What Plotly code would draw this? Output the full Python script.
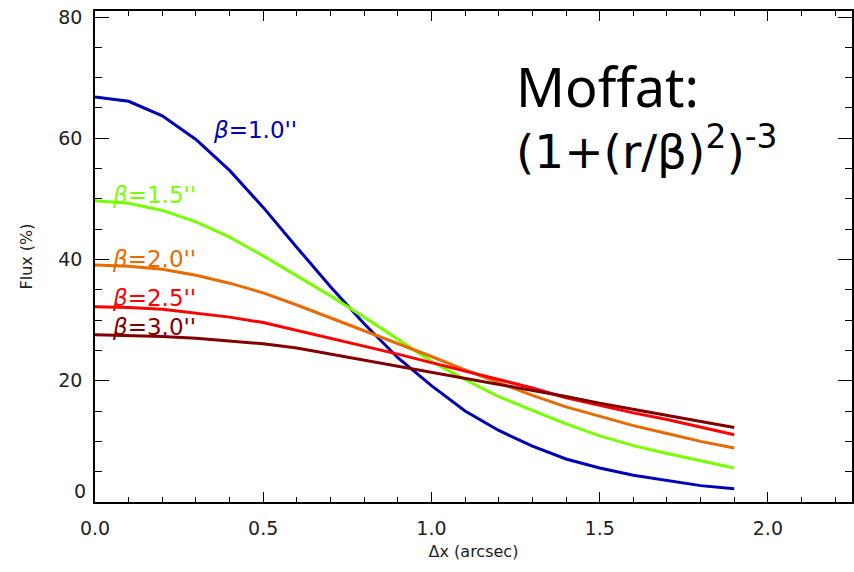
import plotly.graph_objects as go

dx = [0.0, 0.1, 0.2, 0.3, 0.4, 0.5, 0.6, 0.7, 0.8, 0.9, 1.0,
      1.1, 1.2, 1.3, 1.4, 1.5, 1.6, 1.7, 1.8, 1.9]

flux_b10 = [66.8, 66.1, 63.7, 59.8, 54.7, 48.6, 42.0, 35.5, 29.4, 23.8, 19.2,
            15.0, 11.8, 9.2, 7.1, 5.6, 4.4, 3.5, 2.7, 2.2]
flux_b15 = [49.7, 49.3, 48.1, 46.2, 43.7, 40.6, 37.3, 34.0, 30.5, 26.8, 23.2,
            20.2, 17.4, 15.1, 12.9, 10.9, 9.3, 8.0, 6.8, 5.6]
flux_b20 = [39.1, 38.9, 38.4, 37.4, 36.1, 34.5, 32.5, 30.4, 28.3, 26.2, 24.0,
            21.8, 19.7, 17.6, 15.7, 14.1, 12.6, 11.3, 10.0, 8.9]
flux_b25 = [32.2, 32.1, 31.8, 31.2, 30.5, 29.6, 28.3, 27.0, 25.8, 24.4, 23.0,
            21.6, 20.1, 18.8, 17.2, 15.9, 14.7, 13.6, 12.3, 11.1]
flux_b30 = [27.6, 27.5, 27.3, 27.0, 26.6, 26.1, 25.4, 24.4, 23.5, 22.5, 21.5,
            20.4, 19.5, 18.5, 17.4, 16.3, 15.3, 14.4, 13.3, 12.3]

series_names = ["β=1.0''", "β=1.5''", "β=2.0''", "β=2.5''", "β=3.0''"]
series_vals = [flux_b10, flux_b15, flux_b20, flux_b25, flux_b30]
colors = ["#0000b4", "#78ff00", "#e86a00", "#ff0000", "#800000"]

# label anchor positions (data coords)
label_x = [0.35, 0.05, 0.05, 0.05, 0.05]
label_y = [61.3, 50.6, 40.1, 33.7, 28.9]

x_ticks = [0.0, 0.5, 1.0, 1.5, 2.0]
x_ticklabels = ["0.0", "0.5", "1.0", "1.5", "2.0"]
y_ticks = [0, 20, 40, 60, 80]
y_ticklabels = ["", "20", "40", "60", "80"]
y_zero_label = "0"

fig = go.Figure()
for name, vals, col in zip(series_names, series_vals, colors):
    fig.add_trace(go.Scatter(x=dx, y=vals, mode="lines", name=name,
                             line=dict(color=col, width=3), showlegend=False))

for name, col, lx, ly in zip(series_names, colors, label_x, label_y):
    txt = "<i>β</i>" + name[1:]
    fig.add_annotation(x=lx, y=ly, xref="x", yref="y", text=txt, showarrow=False,
                       xanchor="left", yanchor="middle", xshift=-2,
                       font=dict(family="DejaVu Sans", size=23, color=col))

# y "0" tick label raised above the corner, as in the reference
fig.add_annotation(x=0, y=0, xref="paper", yref="y", text=y_zero_label, showarrow=False,
                   xanchor="right", yanchor="bottom", xshift=-7, yshift=-2,
                   font=dict(family="DejaVu Sans", size=19, color="#222222"))

fig.add_annotation(x=1.257, y=68.6, xref="x", yref="y", text="Moffat:",
                   showarrow=False, xanchor="left", yanchor="middle", xshift=-4,
                   font=dict(family="Noto Sans", size=54, color="black"))
fig.add_annotation(x=1.257, y=58.4, xref="x", yref="y",
                   text="(1+(r/β)<sup>2</sup>)<sup>-3</sup>",
                   showarrow=False, xanchor="left", yanchor="middle", xshift=-4,
                   font=dict(family="DejaVu Sans", size=47, color="black"))

axis_common = dict(showgrid=False, zeroline=False, showline=True, linecolor="black",
                   linewidth=1.5, mirror="ticks", ticks="inside", tickcolor="black",
                   automargin=False,
                   tickfont=dict(family="DejaVu Sans", size=19, color="#222222"))

fig.update_xaxes(range=[0, 2.25], tickvals=x_ticks, ticktext=x_ticklabels, ticklen=10,
                 minor=dict(dtick=0.1, ticks="inside", ticklen=5, tickcolor="black"),
                 ticklabelstandoff=8,
                 title=dict(text="Δx (arcsec)", font=dict(family="DejaVu Sans", size=16, color="#222222"), standoff=8),
                 **axis_common)
fig.update_yaxes(range=[0, 81], tickvals=y_ticks, ticktext=y_ticklabels, ticklen=14,
                 minor=dict(dtick=5, ticks="inside", ticklen=7, tickcolor="black"),
                 ticklabelstandoff=7,
                 title=dict(text="Flux (%)", font=dict(family="DejaVu Sans", size=16, color="#222222"), standoff=22),
                 **axis_common)

fig.update_layout(width=854, height=572, plot_bgcolor="white", paper_bgcolor="white",
                  margin=dict(l=95, r=2, t=11, b=70))
fig.write_html("out.html", config={"displayModeBar": False},
               post_script="document.body.style.margin='0';document.body.style.overflow='hidden';")
